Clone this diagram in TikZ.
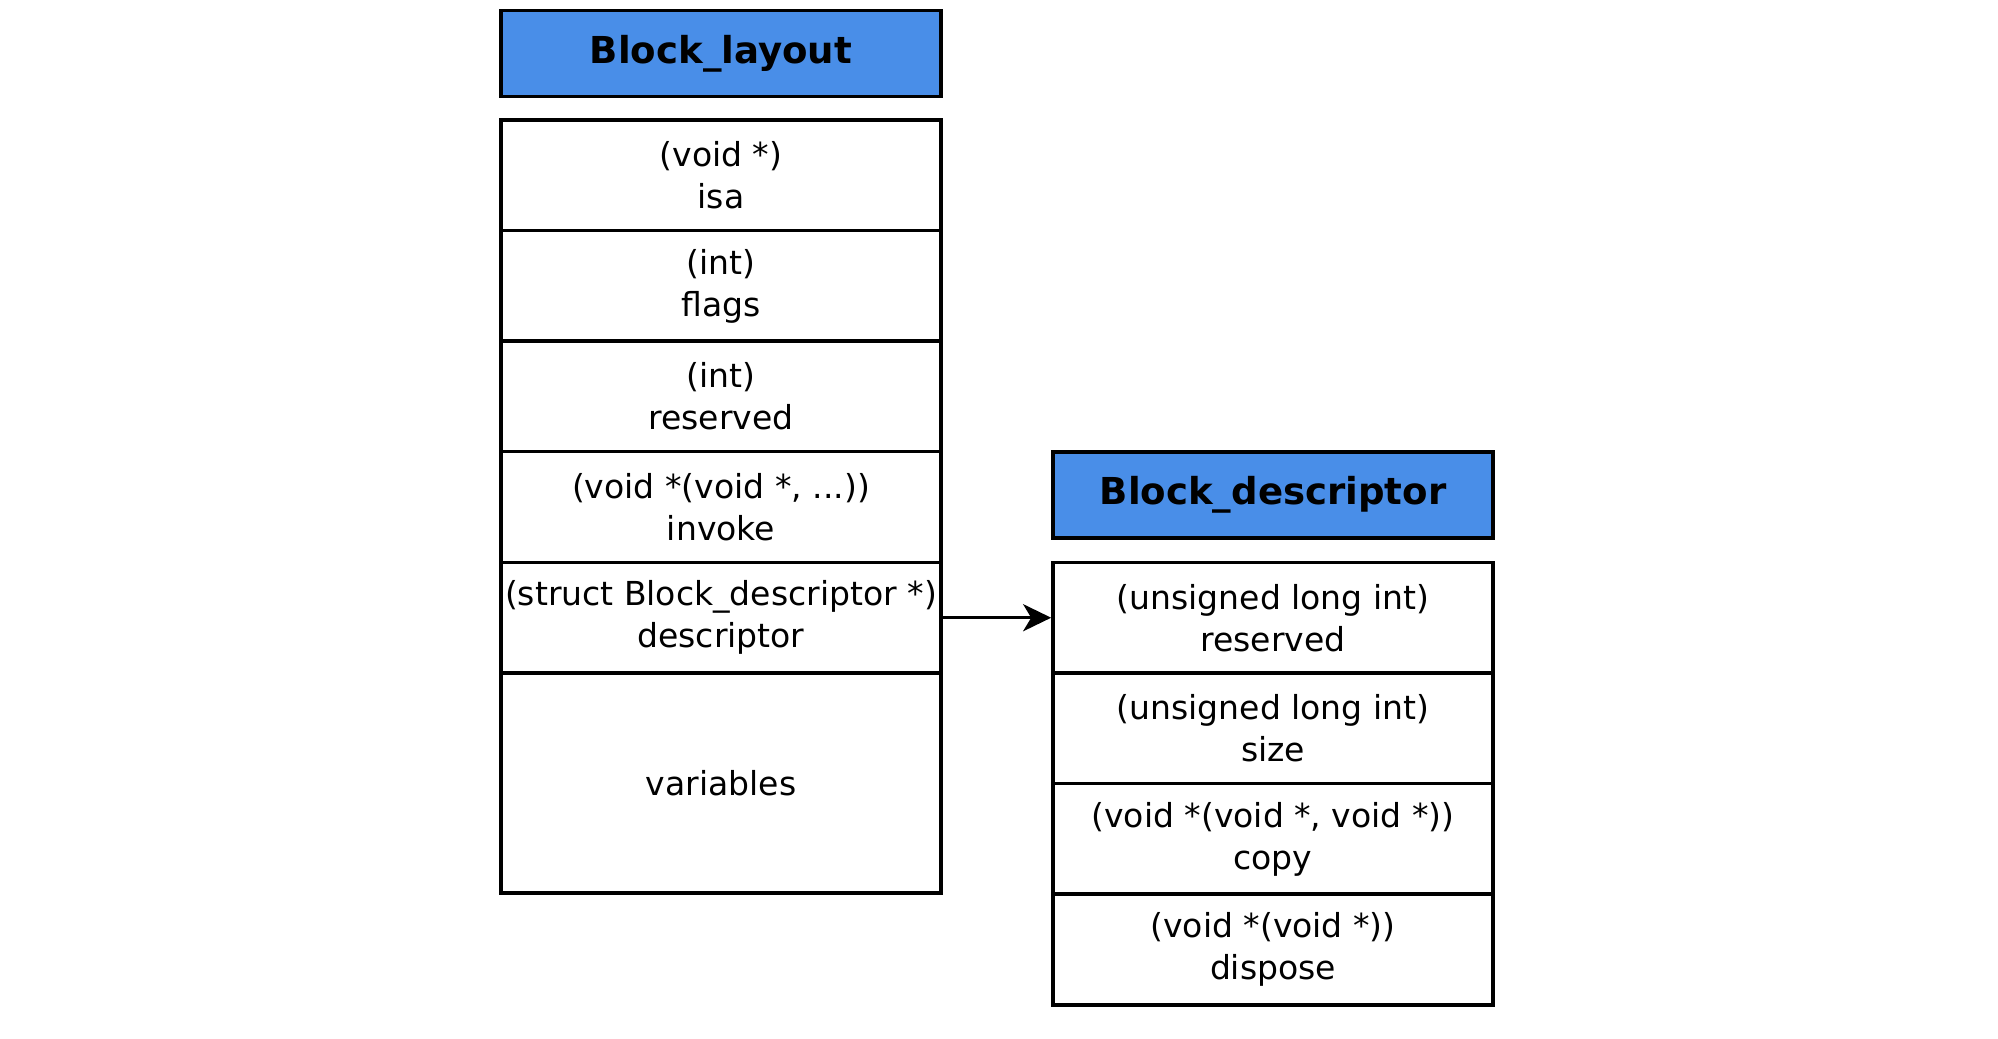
\documentclass[tikz,border=0pt]{standalone}
\usepackage{fontspec}
\setmainfont{DejaVu Sans}
\usetikzlibrary{arrows.meta}
\definecolor{hdrblue}{RGB}{73,142,232}
\tikzset{
  field/.style={draw=black, line width=0.034cm, fill=white, rectangle, inner sep=0pt,
    minimum width=4.40cm, minimum height=1.106cm, align=center,
    font=\fontsize{9.39pt}{11.95pt}\selectfont},
  hdr/.style={draw=black, line width=0.034cm, fill=hdrblue, rectangle, inner sep=0pt,
    minimum width=4.40cm, minimum height=0.86cm, align=center,
    font=\fontsize{10.55pt}{12pt}\selectfont\bfseries},
  link/.style={draw=black, line width=0.034cm, -{Stealth[length=0.28cm, width=0.27cm, inset=0.08cm]}}
}
\begin{document}
\begin{tikzpicture}[x=0.01cm, y=-0.01cm]
\useasboundingbox (0,0) rectangle (1998,1038);
% left structure
\node[hdr] (lh) at (721,53.5) {Block\_layout};
\node[field] (isa) at (721,175.3) {(void *)\\isa};
\node[field] (flags) at (721,285.9) {(int)\\flags};
\node[field] (lres) at (721,396.5) {(int)\\reserved};
\node[field] (invoke) at (721,507.1) {(void *(void *, ...))\\invoke};
\node[field] (desc) at (721,617.7) {(struct Block\_descriptor *)\\descriptor};
\node[field, minimum height=2.2cm] (vars) at (721,783) {variables};
% right structure
\node[hdr] (rh) at (1273,495) {Block\_descriptor};
\node[field] (rres) at (1273,617.7) {(unsigned long int)\\reserved};
\node[field] (size) at (1273,728.3) {(unsigned long int)\\size};
\node[field] (copy) at (1273,838.9) {(void *(void *, void *))\\copy};
\node[field] (dispose) at (1273,949.5) {(void *(void *))\\dispose};
% connector
\draw[link] (desc.east) -- (rres.west);
\end{tikzpicture}
\end{document}
